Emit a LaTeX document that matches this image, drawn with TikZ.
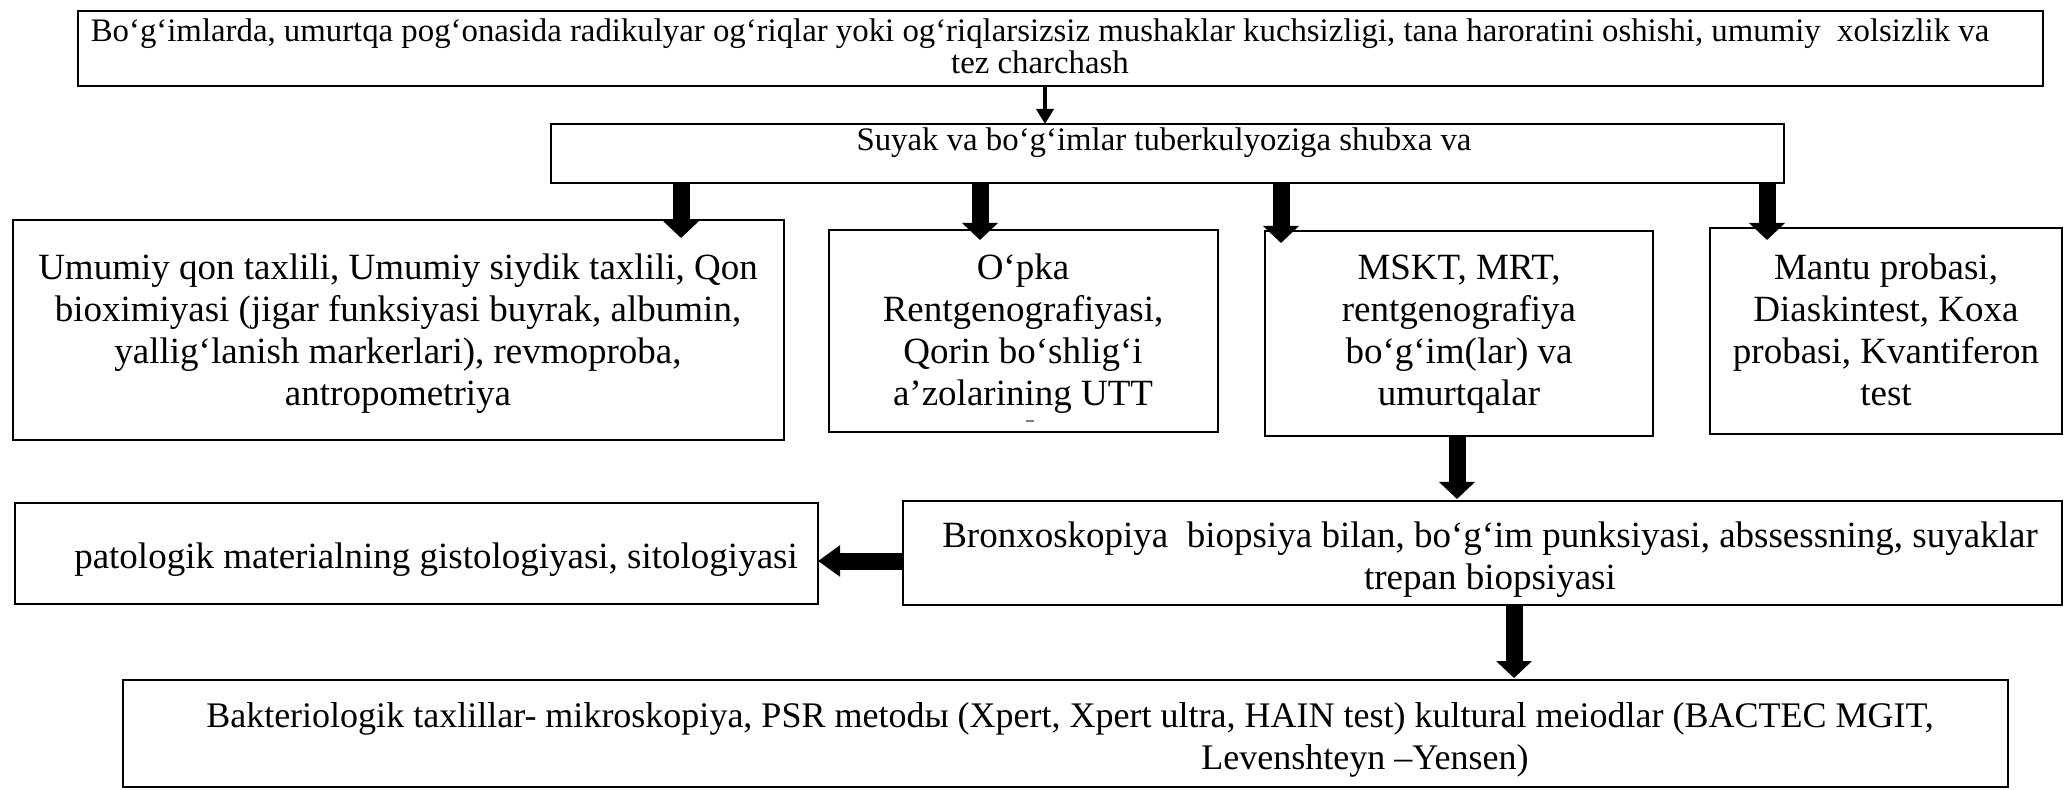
\documentclass[tikz,border=0pt]{standalone}
\usepackage{fontspec}
\setmainfont{Liberation Serif}
\usetikzlibrary{arrows.meta,fit}
\tikzset{
  box/.style={draw, line width=1.1pt, rectangle, inner sep=0pt},
  txt/.style={align=center, inner sep=0pt, font=\fontsize{18.5pt}{21pt}\selectfont},
  smalltxt/.style={align=center, inner sep=0pt, font=\fontsize{16.4pt}{16.2pt}\selectfont},
  bigarrow/.style={line width=8.5pt, -{Triangle[width=17.5pt,length=8.5pt]}},
  thinarrow/.style={line width=2pt, -{Triangle[width=8.5pt,length=7.5pt]}},
  sidearrow/.style={line width=8.5pt, -{Triangle[width=15pt,length=11pt]}},
}
\begin{document}
\begin{tikzpicture}[x=0.5pt,y=-0.5pt]
\useasboundingbox[fill=white] (0,0) rectangle (2065,790);
% boxes
\node[box, fit={(78,11) (2043,86)}] (top) {};
\node[box, fit={(551,124) (1784,183)}] (suyak) {};
\node[box, fit={(13,220) (784,440)}] (umumiy) {};
\node[box, fit={(829,230) (1218,432)}] (opka) {};
\node[box, fit={(1265,231) (1653,436)}] (mskt) {};
\node[box, fit={(1710,228) (2062,434)}] (mantu) {};
\node[box, fit={(903,501) (2062,605)}] (bronx) {};
\node[box, fit={(15,503) (818,604)}] (pato) {};
\node[box, fit={(123,680) (2008,787)}] (bakt) {};
% texts
\node[smalltxt] (toptext) at (1040,46) {Bo‘g‘imlarda, umurtqa pog‘onasida radikulyar og‘riqlar yoki og‘riqlarsizsiz mushaklar kuchsizligi, tana haroratini oshishi, umumiy~ xolsizlik va\\tez charchash};
\node[smalltxt] (suyaktext) at (1164,143) {Suyak va bo‘g‘imlar tuberkulyoziga shubxa va};
\node[txt] (umumiytext) at (398,334) {Umumiy qon taxlili, Umumiy siydik taxlili, Qon\\bioximiyasi (jigar funksiyasi buyrak, albumin,\\yallig‘lanish markerlari), revmoproba,\\antropometriya};
\node[txt] (opkatext) at (1023,334) {O‘pka\\Rentgenografiyasi,\\Qorin bo‘shlig‘i\\a’zolarining UTT};
\node[txt] (mskttext) at (1459,334) {MSKT, MRT,\\rentgenografiya\\bo‘g‘im(lar) va\\umurtqalar};
\node[txt] (mantutext) at (1886,330) {Mantu probasi,\\Diaskintest, Koxa\\probasi, Kvantiferon\\test};
\node[txt] (bronxtext) at (1490,560) {Bronxoskopiya~ biopsiya bilan, bo‘g‘im punksiyasi, abssessning, suyaklar\\trepan biopsiyasi};
\node[txt] (patotext) at (436,560) {patologik materialning gistologiyasi, sitologiyasi};
\node[txt, font=\fontsize{18pt}{21pt}\selectfont] (bakttext) at (1070,740) {Bakteriologik taxlillar- mikroskopiya, PSR metodы (Xpert, Xpert ultra, HAIN test) kultural meiodlar (BACTEC MGIT,\\\hspace*{295pt}Levenshteyn –Yensen)};
\draw[gray, line width=0.6pt] (1026,421) -- (1034,421);
% arrow tips
\coordinate (t0) at (1045,124);
\coordinate (t1) at (681,238);
\coordinate (t2) at (980,240);
\coordinate (t3) at (1281,243);
\coordinate (t4) at (1767,240);
\coordinate (t5) at (1457,499);
\coordinate (t6) at (818,561);
\coordinate (t7) at (1514,678);
% connectors
\draw[thinarrow] (top.south -| t0) -- (t0);
\draw[bigarrow] (suyak.south -| t1) -- (t1);
\draw[bigarrow] (suyak.south -| t2) -- (t2);
\draw[bigarrow] (suyak.south -| t3) -- (t3);
\draw[bigarrow] (suyak.south -| t4) -- (t4);
\draw[bigarrow] (mskt.south -| t5) -- (t5);
\draw[sidearrow] (bronx.west |- t6) -- (t6);
\draw[bigarrow] (bronx.south -| t7) -- (t7);
\end{tikzpicture}
\end{document}
